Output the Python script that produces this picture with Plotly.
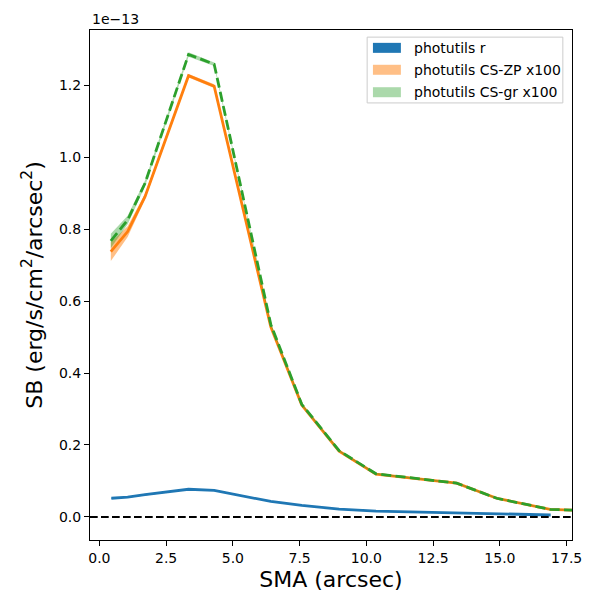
import plotly.graph_objects as go
import numpy as np

# surface brightness profiles, in units of 1e-13 erg/s/cm2/arcsec2
sma_r = [0.45, 1.06, 1.71, 3.34, 4.30, 6.42, 7.58, 8.98, 10.36, 13.38, 14.88, 16.9]
sb_r = [0.052, 0.055, 0.062, 0.077, 0.074, 0.043, 0.032, 0.022, 0.0165, 0.0105, 0.008, 0.0055]
err_r = [0.0015, 0.0015, 0.0015, 0.0015, 0.0015, 0.0012, 0.001, 0.001, 0.001, 0.001, 0.001, 0.001]

sma_cs = [0.43, 1.06, 1.71, 3.34, 4.30, 6.42, 7.58, 8.98, 10.36, 13.38, 14.88, 16.88, 18.6]
sb_zp = [0.737, 0.793, 0.89, 1.226, 1.197, 0.528, 0.311, 0.183, 0.119, 0.094, 0.052, 0.021, 0.017]
err_zp = [0.026, 0.015, 0.008, 0.005, 0.005, 0.003, 0.003, 0.002, 0.002, 0.002, 0.002, 0.001, 0.001]
sb_gr = [0.767, 0.825, 0.927, 1.285, 1.258, 0.535, 0.313, 0.184, 0.120, 0.094, 0.052, 0.021, 0.017]
err_gr = [0.02, 0.012, 0.008, 0.006, 0.005, 0.004, 0.003, 0.002, 0.002, 0.002, 0.002, 0.001, 0.001]

labels = ["photutils r", "photutils CS-ZP x100", "photutils CS-gr x100"]
band_colors = ["rgba(31,119,180,1)", "rgba(255,127,14,0.5)", "rgba(44,160,44,0.4)"]
tick_y = [0.0, 0.2, 0.4, 0.6, 0.8, 1.0, 1.2]
tick_x = [0.0, 2.5, 5.0, 7.5, 10.0, 12.5, 15.0, 17.5]

fig = go.Figure()


def band(x, y, e, col, name):
    x = np.array(x)
    y = np.array(y)
    e = np.array(e)
    px = np.concatenate([x, x[::-1]])
    py = np.concatenate([y + e, (y - e)[::-1]])
    fig.add_trace(go.Scatter(x=px, y=py, mode="lines", line=dict(width=0),
                             fill="toself", fillcolor=col, name=name,
                             showlegend=False, hoverinfo="skip"))


# zero line
fig.add_hline(y=0, line=dict(color="black", width=2, dash="7.7px,3.3px"))

band(sma_r, sb_r, err_r, band_colors[0], labels[0])
fig.add_trace(go.Scatter(x=sma_r, y=sb_r, mode="lines", showlegend=False,
                         line=dict(color="#1f77b4", width=2.8)))

band(sma_cs, sb_zp, err_zp, band_colors[1], labels[1])
fig.add_trace(go.Scatter(x=sma_cs, y=sb_zp, mode="lines", showlegend=False,
                         line=dict(color="#ff7f0e", width=2.8)))

band(sma_cs, sb_gr, err_gr, band_colors[2], labels[2])
fig.add_trace(go.Scatter(x=sma_cs, y=sb_gr, mode="lines", showlegend=False,
                         line=dict(color="#2ca02c", width=2.8, dash="10px,4.4px")))

axis_style = dict(showgrid=False, zeroline=False, showline=True, linecolor="black",
                  linewidth=1.1, mirror=True, ticks="outside", ticklen=5,
                  tickwidth=1.1, tickcolor="black",
                  tickfont=dict(size=14, color="black"))

fig.update_xaxes(range=[-0.35, 17.7], tickvals=tick_x,
                 ticktext=[f"{v:.1f}" for v in tick_x],
                 title=dict(text="SMA (arcsec)", font=dict(size=22, color="black"), standoff=6),
                 **axis_style)
fig.update_yaxes(range=[-0.064, 1.353], tickvals=tick_y,
                 ticktext=[f"{v:.1f}" for v in tick_y],
                 title=dict(text="SB (erg/s/cm<sup>2</sup>/arcsec<sup>2</sup>)",
                            font=dict(size=22, color="black"), standoff=10),
                 **axis_style)

fig.add_annotation(text="1e\u221213", xref="paper", yref="paper", x=0, y=1,
                   xanchor="left", yanchor="bottom", showarrow=False,
                   font=dict(size=14, color="black"), yshift=1)

# legend drawn by hand: matplotlib-like patches in a light grey box
fig.add_shape(type="rect", xref="paper", yref="paper",
              x0=0.575, x1=0.981, y0=0.857, y1=0.986,
              line=dict(color="#cccccc", width=1), fillcolor="rgba(255,255,255,0.8)")
row_y = [0.965, 0.922, 0.878]
for lab, col, ry in zip(labels, band_colors, row_y):
    fig.add_shape(type="rect", xref="paper", yref="paper",
                  x0=0.587, x1=0.645, y0=ry - 0.0098, y1=ry + 0.0098,
                  line=dict(width=0), fillcolor=col)
    fig.add_annotation(text=lab, xref="paper", yref="paper", x=0.668, y=ry,
                       xanchor="left", yanchor="middle", showarrow=False,
                       font=dict(size=14, color="black"))

# page body adds an 8px offset, so the figure is 592 wide/high
fig.update_layout(
    width=592, height=592,
    margin=dict(l=82, r=28, t=22, b=60),
    paper_bgcolor="white", plot_bgcolor="white",
    font=dict(family="DejaVu Sans", color="black"),
    showlegend=False,
)

fig.write_html("out.html")
